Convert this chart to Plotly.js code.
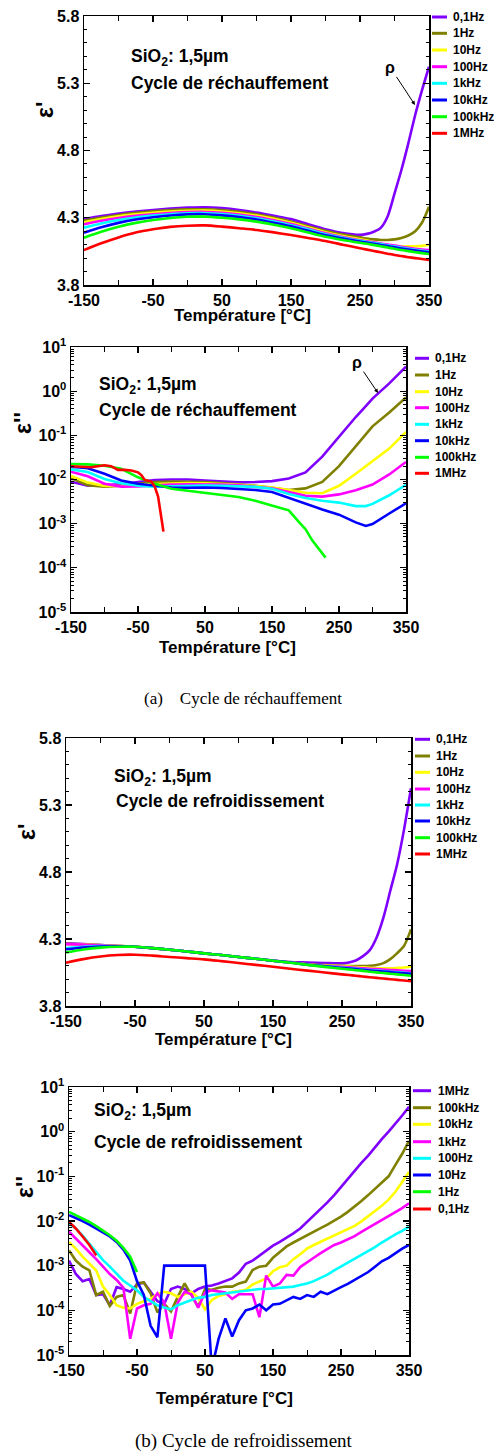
<!DOCTYPE html>
<html><head><meta charset="utf-8">
<script src="https://cdn.plot.ly/plotly-3.0.1.min.js"></script>
<style>html,body{margin:0;padding:0;background:#fff}#chart{width:494px;height:1452px}</style>
</head><body><div id="chart"></div>
<script>
// ---------- DATA ----------
const seriesColors = ['#8000ff','#808000','#ffff00','#ff00ff','#00ffff','#0000ff','#00ff00','#ff0000'];
const namesHeat = ['0,1Hz','1Hz','10Hz','100Hz','1kHz','10kHz','100kHz','1MHz'];
const namesCoolReal = ['0,1Hz','1Hz','10Hz','100Hz','1kHz','10kHz','100kHz','1MHz'];
const namesCoolLoss = ['1MHz','100kHz','10kHz','1kHz','100Hz','10Hz','1Hz','0,1Hz'];
const xTickVals = [-150,-50,50,150,250,350];
const yRealTicks = [3.8,4.3,4.8,5.3,5.8];
const yRealTickText = ['3.8','4.3','4.8','5.3','5.8'];
const yLogTicks = [1e-5,1e-4,1e-3,1e-2,1e-1,1,10];
const yLogTickText = ['10<sup>-5</sup>','10<sup>-4</sup>','10<sup>-3</sup>','10<sup>-2</sup>','10<sup>-1</sup>','10<sup>0</sup>','10<sup>1</sup>'];

// eps' temperature grid (both cycles)
const tReal = [-150,-125,-100,-75,-50,-25,0,25,50,75,100,125,150,175,200,225,250,260,270,280,290,300,310,320,330,340,350];
// eps' heating
const hr01Hz  = [4.290,4.312,4.331,4.346,4.358,4.368,4.375,4.378,4.372,4.358,4.338,4.314,4.290,4.252,4.215,4.186,4.173,4.180,4.196,4.225,4.310,4.480,4.655,4.853,5.064,5.250,5.423];
const hr1Hz   = [4.279,4.302,4.321,4.336,4.348,4.357,4.362,4.363,4.357,4.344,4.326,4.302,4.272,4.237,4.203,4.175,4.154,4.145,4.139,4.135,4.135,4.139,4.150,4.168,4.200,4.265,4.382];
const hr10Hz  = [4.266,4.290,4.310,4.325,4.337,4.346,4.352,4.353,4.347,4.334,4.316,4.292,4.263,4.228,4.193,4.164,4.140,4.130,4.118,4.107,4.097,4.090,4.087,4.087,4.088,4.091,4.097];
const hr100Hz = [4.251,4.277,4.298,4.314,4.326,4.335,4.342,4.343,4.337,4.324,4.306,4.282,4.254,4.220,4.185,4.157,4.133,4.125,4.117,4.109,4.101,4.093,4.085,4.077,4.070,4.064,4.060];
const hr1kHz  = [4.226,4.257,4.283,4.302,4.316,4.326,4.333,4.334,4.327,4.314,4.296,4.272,4.245,4.212,4.178,4.152,4.128,4.120,4.112,4.104,4.095,4.086,4.077,4.069,4.061,4.054,4.048];
const hr10kHz = [4.189,4.229,4.262,4.287,4.304,4.317,4.325,4.326,4.318,4.305,4.287,4.263,4.236,4.203,4.170,4.145,4.123,4.115,4.107,4.098,4.089,4.080,4.071,4.063,4.056,4.049,4.043];
const hr100kHz= [4.152,4.196,4.233,4.262,4.283,4.298,4.307,4.308,4.300,4.288,4.271,4.248,4.222,4.190,4.159,4.135,4.114,4.106,4.097,4.088,4.079,4.069,4.060,4.052,4.044,4.037,4.030];
const hr1MHz  = [4.060,4.110,4.154,4.190,4.214,4.232,4.241,4.243,4.234,4.222,4.209,4.191,4.172,4.150,4.127,4.100,4.073,4.063,4.053,4.043,4.033,4.023,4.015,4.007,4.000,3.993,3.986];
// eps' cooling
const cr01Hz  = [4.268,4.262,4.255,4.248,4.242,4.232,4.220,4.207,4.193,4.180,4.166,4.152,4.140,4.128,4.125,4.121,4.119,4.125,4.140,4.170,4.215,4.310,4.460,4.660,4.860,5.120,5.425];
const cr1Hz   = [4.265,4.260,4.254,4.248,4.242,4.232,4.220,4.207,4.193,4.180,4.166,4.152,4.138,4.126,4.112,4.105,4.100,4.099,4.098,4.098,4.100,4.106,4.120,4.150,4.195,4.250,4.372];
const cr10Hz  = [4.263,4.259,4.253,4.247,4.242,4.232,4.220,4.207,4.193,4.180,4.166,4.152,4.138,4.125,4.110,4.102,4.097,4.094,4.091,4.088,4.085,4.082,4.082,4.082,4.084,4.087,4.093];
const cr100Hz = [4.262,4.258,4.253,4.247,4.242,4.232,4.220,4.207,4.193,4.180,4.166,4.152,4.138,4.124,4.109,4.099,4.092,4.089,4.085,4.081,4.078,4.075,4.072,4.069,4.066,4.063,4.061];
const cr1kHz  = [4.232,4.242,4.247,4.246,4.242,4.232,4.220,4.207,4.193,4.180,4.166,4.152,4.138,4.124,4.108,4.097,4.086,4.082,4.078,4.073,4.068,4.064,4.060,4.056,4.052,4.048,4.044];
const cr10kHz = [4.223,4.237,4.244,4.245,4.242,4.232,4.220,4.207,4.193,4.180,4.166,4.152,4.138,4.124,4.108,4.096,4.084,4.080,4.075,4.070,4.065,4.061,4.057,4.053,4.048,4.044,4.040];
const cr100kHz= [4.200,4.222,4.236,4.242,4.242,4.232,4.220,4.207,4.193,4.180,4.166,4.152,4.138,4.123,4.107,4.092,4.078,4.073,4.067,4.062,4.056,4.051,4.046,4.041,4.036,4.031,4.026];
const cr1MHz  = [4.123,4.150,4.170,4.181,4.183,4.176,4.166,4.157,4.148,4.135,4.121,4.107,4.093,4.078,4.064,4.050,4.036,4.031,4.026,4.020,4.015,4.010,4.005,4.000,3.995,3.990,3.985];

// eps'' heating
const tLossHeat = [-150,-125,-100,-75,-50,-25,0,25,50,75,100,125,150,175,200,225,250,275,290,300,325,350];
const hl01Hz  = [0.0089,0.0072,0.0075,0.0078,0.0088,0.0097,0.0100,0.0100,0.0095,0.0090,0.0086,0.0088,0.0092,0.0105,0.0145,0.033,0.095,0.26,0.46,0.68,1.5,3.6];
const hl1Hz   = [0.0107,0.0074,0.0069,0.0072,0.0080,0.0087,0.0090,0.0090,0.0088,0.0083,0.0078,0.0072,0.0065,0.0058,0.0063,0.0088,0.020,0.055,0.105,0.16,0.33,0.72];
const hl10Hz  = [0.012,0.0085,0.0071,0.0072,0.0077,0.0080,0.0082,0.0083,0.0082,0.0080,0.0076,0.0071,0.0066,0.0058,0.0050,0.0049,0.0072,0.0135,0.020,0.026,0.05,0.12];
const hl100Hz = [0.015,0.0118,0.0080,0.0069,0.0070,0.0074,0.0077,0.0078,0.0078,0.0077,0.0074,0.0069,0.0063,0.0052,0.0043,0.0041,0.0046,0.0057,0.0068,0.0077,0.013,0.025];
const hl1kHz  = [0.017,0.0148,0.0103,0.0082,0.0072,0.0069,0.0070,0.0072,0.0073,0.0072,0.0070,0.0068,0.0062,0.0047,0.0038,0.0033,0.0030,0.0025,0.0025,0.0028,0.0044,0.0076];
const hl10kHz = [0.0195,0.018,0.0135,0.0095,0.0080,0.0072,0.0066,0.0065,0.0066,0.0064,0.0062,0.0058,0.0052,0.0038,0.0028,0.0021,0.0016,0.00107,0.00089,0.00098,0.0017,0.0029];
const tHl100kHz = [-150,-125,-100,-75,-50,-25,0,25,50,75,100,125,150,175,190,200,210,220,230];
const hl100kHz  = [0.0225,0.022,0.0205,0.0175,0.0112,0.0080,0.0062,0.0056,0.0050,0.0045,0.0040,0.0033,0.0026,0.0020,0.0011,0.00075,0.00042,0.00027,0.00017];
const tHl1MHz = [-150,-140,-130,-120,-110,-100,-90,-80,-70,-60,-50,-45,-40,-35,-30,-25,-20,-12];
const hl1MHz  = [0.020,0.0195,0.019,0.019,0.020,0.021,0.020,0.0165,0.0165,0.016,0.0145,0.0126,0.0098,0.0092,0.0089,0.0069,0.0041,0.00066];

// eps'' cooling (legend order: 1MHz ... 0,1Hz)
const tLossCool = [-150,-140,-130,-120,-110,-100,-90,-80,-70,-60,-50,-40,-30,-20,-10,0,10,20,30,40,50,60,70,80,90,100,110,120,130,140,150,160,170,180,190,200,210,220,230,240,250,260,270,280,290,300,310,320,330,340,350];
const cl1MHz  = [1.3e-3,6.5e-4,4.5e-4,5e-4,2.2e-4,2.3e-4,1.3e-4,3.3e-4,3e-4,2.6e-4,3.8e-4,4.2e-4,2.6e-4,1.6e-4,1.4e-4,3e-4,3.4e-4,3e-4,2.4e-4,3e-4,3.4e-4,3.6e-4,4e-4,4.5e-4,5.2e-4,7e-4,1.1e-3,1.3e-3,1.7e-3,2.2e-3,2.8e-3,3.4e-3,4.2e-3,5.3e-3,6.8e-3,9.5e-3,1.3e-2,1.8e-2,2.6e-2,3.8e-2,5.8e-2,9e-2,0.13,0.2,0.29,0.45,0.68,1.0,1.5,2.3,3.6];
const cl100kHz= [2.2e-3,1.3e-3,9.5e-4,7.8e-4,2.2e-4,2.6e-4,1.25e-4,2e-4,2.2e-4,8.5e-5,4e-4,4.2e-4,2.4e-4,9e-5,1.4e-4,9.5e-5,2e-4,4e-4,2.2e-4,1.2e-4,3e-4,2.9e-4,3.2e-4,3.4e-4,3.4e-4,4e-4,4.4e-4,8e-4,9.5e-4,1e-3,1.5e-3,2e-3,2.7e-3,3.3e-3,4e-3,4.9e-3,5.8e-3,6.9e-3,8.3e-3,1e-2,1.25e-2,1.6e-2,2.1e-2,2.8e-2,3.8e-2,5.2e-2,7.2e-2,0.1,0.18,0.32,0.62];
const cl10kHz = [3.4e-3,2.4e-3,1.6e-3,1.1e-3,7.8e-4,3.4e-4,2.2e-4,1.3e-4,1.15e-4,1.1e-4,1.4e-4,1.6e-4,1.8e-4,2.3e-4,2.6e-4,2.4e-4,2e-4,2.3e-4,2.6e-4,1.9e-4,1.05e-4,1.7e-4,2.1e-4,2.3e-4,2.6e-4,2.7e-4,2.9e-4,3.8e-4,4.5e-4,5.2e-4,7.5e-4,9.2e-4,1e-3,1.4e-3,1.8e-3,2.4e-3,2.9e-3,3.4e-3,4e-3,4.7e-3,5.6e-3,6.6e-3,7.8e-3,9.8e-3,1.27e-2,1.65e-2,2.2e-2,3e-2,4.5e-2,7.5e-2,0.125];
const cl1kHz  = [5.8e-3,4e-3,2.9e-3,2e-3,1.4e-3,9.5e-4,6.5e-4,4.8e-4,3.2e-4,2.3e-5,1.1e-4,1.3e-4,1.4e-4,2.4e-4,1.5e-4,2.3e-5,1.5e-4,2.6e-4,2.3e-4,1.15e-4,2.5e-4,2.8e-4,2.6e-4,2.5e-4,1.8e-4,2.3e-4,2.3e-4,2.3e-4,7e-5,6e-4,3.4e-4,4e-4,6.2e-4,6e-4,9.3e-4,1.2e-3,1.5e-3,1.9e-3,2.4e-3,2.9e-3,3.3e-3,3.9e-3,4.6e-3,5.7e-3,7e-3,8.5e-3,1.05e-2,1.25e-2,1.55e-2,1.95e-2,2.5e-2];
const cl100Hz = [8.8e-3,6.8e-3,4.7e-3,3.1e-3,2e-3,1.33e-3,9.5e-4,6.5e-4,4.6e-4,3.6e-4,2.8e-4,2e-4,1.6e-4,1.3e-4,1.15e-4,1.05e-4,1.3e-4,1.5e-4,1.7e-4,1.9e-4,2e-4,2.2e-4,2.3e-4,2.4e-4,2.5e-4,2.65e-4,2.8e-4,2.9e-4,3e-4,3e-4,3.1e-4,3.2e-4,3.3e-4,3.4e-4,3.7e-4,4e-4,4.5e-4,5.3e-4,6.3e-4,7.8e-4,9.5e-4,1.15e-3,1.4e-3,1.7e-3,2.1e-3,2.6e-3,3.3e-3,4.1e-3,5e-3,6e-3,7.4e-3];
const cl10Hz  = [1.35e-2,1.18e-2,1e-2,8.3e-3,6.8e-3,5.6e-3,4.5e-3,3.4e-3,2.3e-3,1.3e-3,4.5e-4,2.2e-4,4.5e-5,2.5e-5,1e-3,1e-3,1e-3,1e-3,1e-3,1e-3,1e-3,5e-6,2.3e-5,6.6e-5,2.6e-5,6e-5,1e-4,1.1e-4,1.35e-4,1e-4,1.35e-4,1.4e-4,1.7e-4,2e-4,1.8e-4,2.2e-4,2e-4,2.6e-4,2.3e-4,2.8e-4,3.3e-4,3.9e-4,4.8e-4,5.8e-4,7.2e-4,9.5e-4,1.25e-3,1.5e-3,1.9e-3,2.4e-3,2.9e-3];
const tCl1Hz = [-150,-140,-130,-120,-110,-100,-90,-80,-70,-60,-50];
const cl1Hz  = [0.016,0.0135,0.0115,0.0095,0.0077,0.0062,0.0048,0.0036,0.0025,0.0016,0.00072];
const tCl01Hz = [-150,-140,-130,-120,-110];
const cl01Hz  = [0.0095,0.0068,0.0045,0.0029,0.0017];

// ---------- BUILD ----------
const W = 494, H = 1452;
const X = p => p / W, Y = p => 1 - p / H;
const FONT = 'Liberation Sans, Arial, Helvetica, sans-serif';

const panels = [
  {l:84, r:429, t:16,  b:285,  log:false, legX:432, legLen:15, legTxt:451, legY:[17,33.3,50,66.7,83.3,100,116.7,133.3]},
  {l:71, r:406, t:347, b:612,  log:true,  legX:415, legLen:14, legTxt:433, legY:[358.3,375,391.7,407.7,424.3,440.7,457.3,473.3]},
  {l:66, r:411, t:738, b:1006, log:false, legX:415, legLen:15, legTxt:434, legY:[739.3,756,772.3,789,805,821,837.7,854]},
  {l:69, r:409, t:1087,b:1355, log:true,  legX:413, legLen:18, legTxt:436, legY:[1090.7,1107.7,1124.3,1141.7,1158.3,1175,1191.7,1209]}
];

const panelSeries = [
  {names:namesHeat, xs:[tReal,tReal,tReal,tReal,tReal,tReal,tReal,tReal], ys:[hr01Hz,hr1Hz,hr10Hz,hr100Hz,hr1kHz,hr10kHz,hr100kHz,hr1MHz], shape:'spline'},
  {names:namesHeat, xs:[tLossHeat,tLossHeat,tLossHeat,tLossHeat,tLossHeat,tLossHeat,tHl100kHz,tHl1MHz], ys:[hl01Hz,hl1Hz,hl10Hz,hl100Hz,hl1kHz,hl10kHz,hl100kHz,hl1MHz], shape:'linear'},
  {names:namesCoolReal, xs:[tReal,tReal,tReal,tReal,tReal,tReal,tReal,tReal], ys:[cr01Hz,cr1Hz,cr10Hz,cr100Hz,cr1kHz,cr10kHz,cr100kHz,cr1MHz], shape:'spline'},
  {names:namesCoolLoss, xs:[tLossCool,tLossCool,tLossCool,tLossCool,tLossCool,tLossCool,tCl1Hz,tCl01Hz], ys:[cl1MHz,cl100kHz,cl10kHz,cl1kHz,cl100Hz,cl10Hz,cl1Hz,cl01Hz], shape:'linear'}
];

const traces = [];
const shapes = [];
const annotations = [];
const layout = {
  width: W, height: H, margin:{l:0,r:0,t:0,b:0},
  paper_bgcolor:'#fff', plot_bgcolor:'#fff', showlegend:false,
  font:{family:FONT, color:'#000'}
};

const axBase = () => ({
  showline:true, linecolor:'#000', linewidth:1.5, mirror:'ticks',
  ticks:'inside', ticklen:6, tickwidth:1.2, tickcolor:'#000',
  showgrid:false, zeroline:false, fixedrange:true,
  tickfont:{family:FONT, size:16, color:'#000', weight:'bold'}
});

panels.forEach((p, i) => {
  const n = i === 0 ? '' : String(i + 1);
  const xa = Object.assign(axBase(), {
    domain:[X(p.l), X(p.r)], anchor:'y' + n, range:[-150, 350],
    tickvals:xTickVals, ticktext:xTickVals.map(String),
    minor:{tickvals:[-100,0,100,200,300], ticks:'inside', ticklen:5, tickwidth:1, tickcolor:'#000'}
  });
  let ya;
  if (p.log) {
    ya = Object.assign(axBase(), {
      domain:[Y(p.b), Y(p.t)], anchor:'x' + n, type:'log', range:[-5, 1],
      tickvals:yLogTicks, ticktext:yLogTickText,
      minor:{ticks:'inside', ticklen:3, tickwidth:1, tickcolor:'#000', dtick:'D1'}
    });
  } else {
    ya = Object.assign(axBase(), {
      domain:[Y(p.b), Y(p.t)], anchor:'x' + n, range:[3.8, 5.8],
      tickvals:yRealTicks, ticktext:yRealTickText,
      minor:{dtick:0.1, tick0:3.8, ticks:'inside', ticklen:3, tickwidth:1, tickcolor:'#000'}
    });
  }
  layout['xaxis' + n] = xa;
  layout['yaxis' + n] = ya;

  const s = panelSeries[i];
  s.names.forEach((name, k) => {
    traces.push({
      type:'scatter', mode:'lines', name:name,
      x:s.xs[k], y:s.ys[k], xaxis:'x' + n, yaxis:'y' + n,
      line:{color:seriesColors[k], width:2.6, shape:s.shape, smoothing:0.8},
      hoverinfo:'skip'
    });
    // custom legend entry
    const ly = Y(p.legY[k]);
    shapes.push({type:'line', xref:'paper', yref:'paper', x0:X(p.legX), x1:X(p.legX + p.legLen), y0:ly, y1:ly,
      line:{color:seriesColors[k], width:3}});
    annotations.push({xref:'paper', yref:'paper', x:X(p.legTxt), y:ly, xanchor:'left', yanchor:'middle',
      text:name, showarrow:false, font:{family:FONT, size:12, color:'#000', weight:'bold'}});
  });
});

// panel texts
const txt = (x, y, t, size, extra) => annotations.push(Object.assign({
  xref:'paper', yref:'paper', x:X(x), y:Y(y), xanchor:'left', yanchor:'middle',
  text:t, showarrow:false, font:{family:FONT, size:size, color:'#000', weight:'bold'}
}, extra || {}));

txt(129, 57,  'SiO<sub>2</sub>: 1,5µm', 17.5);
txt(129, 83,  'Cycle de réchauffement', 17.5);
txt(97, 386,  'SiO<sub>2</sub>: 1,5µm', 17.5);
txt(97, 410,  'Cycle de réchauffement', 17.5);
txt(112, 777, 'SiO<sub>2</sub>: 1,5µm', 17.5);
txt(114, 801, 'Cycle de refroidissement', 17.5);
txt(92, 1111, 'SiO<sub>2</sub>: 1,5µm', 17.5);
txt(92, 1142, 'Cycle de refroidissement', 17.5);

// y-axis titles
txt(45, 110,  "ε'",  23, {xanchor:'center', textangle:-90});
txt(23, 423,  "ε''", 23, {xanchor:'center', textangle:-90});
txt(27, 832,  "ε'",  23, {xanchor:'center', textangle:-90});
txt(25, 1187, "ε''", 23, {xanchor:'center', textangle:-90});

// x-axis titles
txt(242, 316, 'Température [°C]', 17, {xanchor:'center'});
txt(227, 647, 'Température [°C]', 17, {xanchor:'center'});
txt(223, 1039,'Température [°C]', 17, {xanchor:'center'});
txt(224, 1398,'Température [°C]', 17, {xanchor:'center'});

// captions
const SERIF = 'Liberation Serif, Times New Roman, serif';
annotations.push({xref:'paper', yref:'paper', x:X(243), y:Y(698), xanchor:'center', yanchor:'middle', showarrow:false,
  text:'(a)\u00a0\u00a0\u00a0\u00a0Cycle de réchauffement', font:{family:SERIF, size:17, color:'#000'}});
annotations.push({xref:'paper', yref:'paper', x:X(244), y:Y(1441), xanchor:'center', yanchor:'middle', showarrow:false,
  text:'(b) Cycle de refroidissement', font:{family:SERIF, size:19, color:'#000'}});

// rho arrows
annotations.push({xref:'paper', yref:'paper', x:X(415), y:Y(105), ax:-25, ay:-38, text:'ρ', showarrow:true,
  arrowhead:2, arrowsize:0.8, arrowwidth:1, arrowcolor:'#000', standoff:0, font:{family:FONT, size:16, color:'#000', weight:'bold'}});
annotations.push({xref:'paper', yref:'paper', x:X(378), y:Y(393), ax:-21, ay:-31, text:'ρ', showarrow:true,
  arrowhead:2, arrowsize:0.8, arrowwidth:1, arrowcolor:'#000', standoff:0, font:{family:FONT, size:16, color:'#000', weight:'bold'}});

layout.shapes = shapes;
layout.annotations = annotations;

Plotly.newPlot('chart', traces, layout, {displayModeBar:false, staticPlot:true});
</script></body></html>
